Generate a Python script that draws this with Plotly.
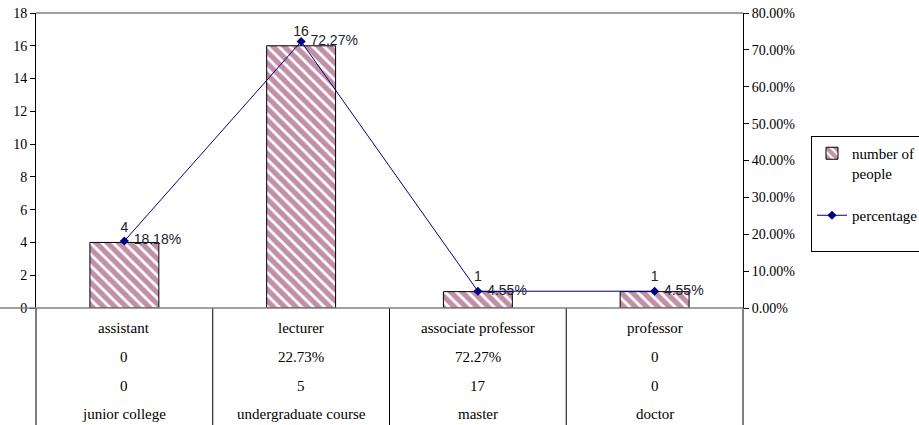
import plotly.graph_objects as go

# Staff structure: title, degree and head-count per group
titles = ["assistant", "lecturer", "associate professor", "professor"]
people = [4, 16, 1, 1]
percentage = [0.1818, 0.7227, 0.0455, 0.0455]
row_percent = ["0", "22.73%", "72.27%", "0"]
row_count = ["0", "5", "17", "0"]
education = ["junior college", "undergraduate course", "master", "doctor"]

left_ticks = [0, 2, 4, 6, 8, 10, 12, 14, 16, 18]
right_ticks = [0, 0.1, 0.2, 0.3, 0.4, 0.5, 0.6, 0.7, 0.8]

W, H = 919, 425
ML, MR, MT, MB = 36, 176, 13, 117
plot_w = W - ML - MR
plot_h = H - MT - MB

serif = "Liberation Serif, Times New Roman, serif"
sans = "Liberation Sans, Arial, sans-serif"
maroon = "#84214f"
navy = "#000080"

xpos = list(range(len(titles)))

fig = go.Figure()

fig.add_trace(go.Bar(
    x=xpos, y=people, name="number of<br>people",
    width=0.39,
    marker=dict(color="white", line=dict(color="black", width=1),
                pattern=dict(shape="\\", fgcolor=maroon, bgcolor="white",
                             size=8, solidity=0.65)),
    legendgroup="a", hoverinfo="y",
))

# value labels above each bar
fig.add_trace(go.Scatter(
    x=xpos, y=people, mode="markers+text", showlegend=False,
    marker=dict(size=9, color="rgba(0,0,0,0)"),
    text=[str(v) for v in people], textposition="top center",
    textfont=dict(family=sans, size=14, color="#222222"),
    cliponaxis=False, hoverinfo="skip",
))

fig.add_trace(go.Scatter(
    x=xpos, y=percentage, name="percentage<br>\u00a0", yaxis="y2",
    mode="lines+markers+text",
    line=dict(color=navy, width=1),
    marker=dict(symbol="diamond", size=7, color=navy),
    texttemplate="\u00a0%{y:.2%}", textposition="middle right",
    textfont=dict(family=sans, size=14, color="#222233"),
    cliponaxis=False, legendgroup="b",
))

# Category table under the plot area
annotations = []
row_offsets = [20, 49, 78, 106]
for rows, off in zip([titles, row_percent, row_count, education], row_offsets):
    for i, label in enumerate(rows):
        annotations.append(dict(
            x=i, xref="x", y=0, yref="paper", yshift=-off,
            yanchor="middle", xanchor="center", showarrow=False,
            text=label, font=dict(family=serif, size=15, color="black"),
        ))

shapes = []
n = len(titles)
bottom = -MB / plot_h
for i in range(n + 1):
    shapes.append(dict(type="line", xref="paper", yref="paper",
                       x0=i / n, x1=i / n, y0=0, y1=bottom,
                       line=dict(color="black", width=1)))
# baseline extending to the left edge, and top border of plot area
shapes.append(dict(type="line", xref="paper", yref="paper",
                   x0=-ML / plot_w, x1=1, y0=0, y1=0,
                   line=dict(color="#808080", width=1.5)))
shapes.append(dict(type="line", xref="paper", yref="paper",
                   x0=0, x1=1, y0=1, y1=1,
                   line=dict(color="#808080", width=1.5)))

fig.update_layout(
    width=W, height=H,
    margin=dict(l=ML, r=MR, t=MT, b=MB, autoexpand=False),
    paper_bgcolor="white", plot_bgcolor="white",
    showlegend=True,
    xaxis=dict(range=[-0.5, n - 0.5], showticklabels=False, showgrid=False,
               zeroline=False, showline=False, ticks=""),
    yaxis=dict(range=[0, 18], tickvals=left_ticks, showgrid=False,
               zeroline=False, showline=True, linecolor="black", linewidth=1,
               ticks="outside", ticklen=5, tickcolor="black",
               tickfont=dict(family=serif, size=14, color="black")),
    yaxis2=dict(range=[0, 0.8], tickvals=right_ticks, tickformat=".2%",
                overlaying="y", side="right", showgrid=False, zeroline=False,
                showline=True, linecolor="black", linewidth=1,
                ticks="outside", ticklen=5, tickcolor="black",
                tickfont=dict(family=serif, size=14, color="black")),
    legend=dict(x=(811 - ML) / plot_w, y=(H - MB - 136) / plot_h,
                xanchor="left", yanchor="top",
                bgcolor="white", bordercolor="black", borderwidth=1,
                font=dict(family=serif, size=15, color="black"),
                traceorder="grouped", tracegroupgap=20, valign="top"),
    annotations=annotations, shapes=shapes,
)

fig.write_html("out.html")
